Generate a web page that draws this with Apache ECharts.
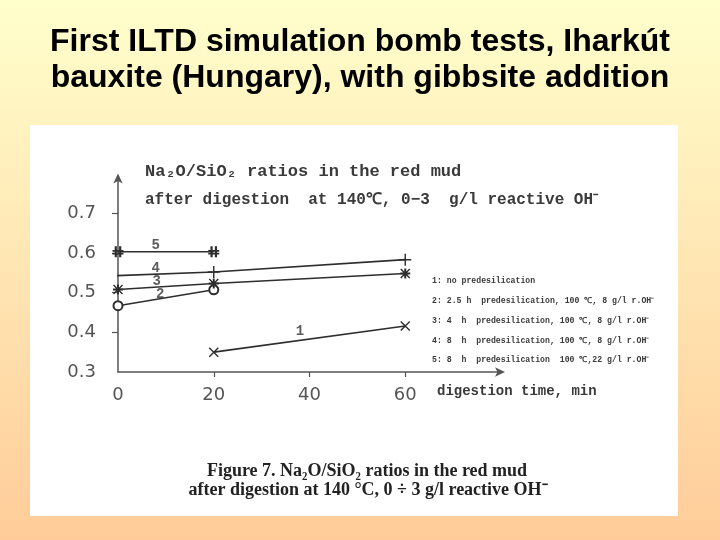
<!DOCTYPE html>
<html>
<head>
<meta charset="utf-8">
<style>html,body{margin:0;padding:0;}#c{width:720px;height:540px;}</style>
<script src="https://cdn.jsdelivr.net/npm/echarts@6/dist/echarts.min.js"></script>
</head>
<body>
<div id="c"></div>
<script>
// ---- data ----
var series1 = [[20, 0.350], [60, 0.416]];
var series2 = [[0, 0.467], [20, 0.507]];
var series3 = [[0, 0.508], [20, 0.523], [60, 0.548]];
var series4 = [[-1.7, 0.542], [20, 0.552], [60, 0.583]];
var series5 = [[0, 0.603], [20, 0.603]];
var lineLabelNames = ['1', '2', '3', '4', '5'];
var lineLabelPos = [[38, 0.403], [8.8, 0.496], [8.1, 0.529], [7.9, 0.562], [7.9, 0.62]];
var xTickLabels = [0, 20, 40, 60];
var xTicks = [20, 40, 60];
var yTickLabels = [0.3, 0.4, 0.5, 0.6, 0.7];
var yTicks = [0.4, 0.5, 0.6, 0.7];
var legendLines = [
  '1: no predesilication',
  '2: 2.5 h  predesilication, 100 \u2103, 8 g/l r.OH\u207B',
  '3: 4  h  predesilication, 100 \u2103, 8 g/l r.OH\u207B',
  '4: 8  h  predesilication, 100 \u2103, 8 g/l r.OH\u207B',
  '5: 8  h  predesilication  100 \u2103,22 g/l r.OH\u207B'
];
var slideTitle = 'First ILTD simulation bomb tests, Iharkút\nbauxite (Hungary), with gibbsite addition';
var innerTitle1 = 'Na\u2082O/SiO\u2082 ratios in the red mud';
var innerTitle2 = 'after digestion  at 140\u2103, 0\u22123  g/l reactive OH\u207B';
var xAxisName = 'digestion time, min';
var caption1 = 'Figure 7. Na\u2082O/SiO\u2082 ratios in the red mud';
var caption2 = 'after digestion at 140 °C, 0 ÷ 3 g/l reactive OH\u207B';

// ---- marker shapes ----
var symX = 'path://M0,1L1,0L10,9L9,10Z M9,0L10,1L1,10L0,9Z';
var symPlus = 'path://M4.4,0H5.6V10H4.4Z M0,4.4H10V5.6H0Z';
var symStar = 'path://M4,0H6V10H4Z M0,4H10V6H0Z M1,0L10,9L9,10L0,1Z M9,0L10,1L1,10L0,9Z';
var symHash = 'path://M2,0H4V10H2Z M6,0H8V10H6Z M0,3.5H10V5H0Z M0,6H10V7.5H0Z';

var ink = '#2e2e2e';
function lineSeries(name, data, symbol, size) {
  return {
    name: name, type: 'line', data: data, symbol: symbol, symbolSize: size,
    showSymbol: true, clip: false,
    lineStyle: { color: ink, width: 1.6 },
    itemStyle: { color: ink, borderColor: ink, borderWidth: symbol === 'emptyCircle' ? 1.5 : 0 },
    z: 3
  };
}
var s4data = series4.map(function (p, i) {
  return i === 0 ? { value: p, symbol: 'none' } : { value: p };
});

var chart = echarts.init(document.getElementById('c'), null, { renderer: 'canvas' });
var monoBold = { fontFamily: 'Liberation Mono', fontWeight: 'bold', fill: '#3a3a3a' };

var graphics = [
  { type: 'rect', z: -1, shape: { x: 30, y: 125, width: 648, height: 391 }, style: { fill: '#ffffff' } },
  { type: 'text', x: 145, y: 172, style: Object.assign({ text: innerTitle1, fontSize: 17, textVerticalAlign: 'middle' }, monoBold) },
  { type: 'text', x: 145, y: 200, style: Object.assign({ text: innerTitle2, fontSize: 16, textVerticalAlign: 'middle' }, monoBold) },
  { type: 'text', x: 437, y: 391, style: Object.assign({ text: xAxisName, fontSize: 14, textVerticalAlign: 'middle' }, monoBold) },
  { type: 'text', x: 367, y: 471, style: { text: caption1, fontFamily: 'Liberation Serif', fontWeight: 'bold', fontSize: 18, fill: '#222', textAlign: 'center', textVerticalAlign: 'middle' } },
  { type: 'text', x: 368, y: 490, style: { text: caption2, fontFamily: 'Liberation Serif', fontWeight: 'bold', fontSize: 18, fill: '#222', textAlign: 'center', textVerticalAlign: 'middle' } }
];
var legendY = [281, 301, 321, 341, 360];
legendLines.forEach(function (t, i) {
  graphics.push({ type: 'text', x: 432, y: legendY[i], style: Object.assign({ text: t, fontSize: 8.2, textVerticalAlign: 'middle' }, monoBold) });
});

chart.setOption({
  animation: false,
  backgroundColor: new echarts.graphic.LinearGradient(0, 0, 0, 1, [
    { offset: 0, color: '#FFFFCC' }, { offset: 1, color: '#FFCC99' }
  ]),
  title: {
    text: slideTitle, left: 'center', top: 19,
    textStyle: { fontFamily: 'Liberation Sans', fontWeight: 'bold', fontSize: 32, lineHeight: 36, color: '#000' }
  },
  grid: { left: 118, right: 219, top: 177.5, bottom: 168 },
  xAxis: {
    type: 'value', min: 0, max: 80, interval: 20,
    axisLine: { lineStyle: { color: '#555', width: 1.5 }, symbol: ['none', 'arrow'], symbolSize: [7, 10], symbolOffset: [0, 4] },
    axisTick: { show: true, length: 5, inside: false, customValues: xTicks, lineStyle: { color: '#555', width: 1.2 } },
    axisLabel: { customValues: xTickLabels, margin: 14, fontFamily: 'DejaVu Sans', fontSize: 18, color: '#555' },
    splitLine: { show: false }
  },
  yAxis: {
    type: 'value', min: 0.3, max: 0.79, interval: 0.1,
    axisLine: { show: true, lineStyle: { color: '#555', width: 1.5 }, symbol: ['none', 'arrow'], symbolSize: [7, 10], symbolOffset: [0, 4] },
    axisTick: { show: true, length: 6, customValues: yTicks, lineStyle: { color: '#555', width: 1.2 } },
    axisLabel: { customValues: yTickLabels, margin: 22, fontFamily: 'DejaVu Sans', fontSize: 18, color: '#555',
      formatter: function (v) { return v.toFixed(1); } },
    splitLine: { show: false }
  },
  series: [
    lineSeries('1', series1, symX, 10),
    lineSeries('2', series2, 'emptyCircle', 9),
    lineSeries('3', series3, symStar, 10),
    lineSeries('4', s4data, symPlus, 12),
    lineSeries('5', series5, symHash, 11),
    {
      type: 'scatter', symbolSize: 1, itemStyle: { color: 'rgba(0,0,0,0)' }, z: 4,
      data: lineLabelPos.map(function (p, i) { return { value: p, name: lineLabelNames[i] }; }),
      label: { show: true, position: 'inside', formatter: '{b}', fontFamily: 'Liberation Mono', fontWeight: 'bold', fontSize: 14, color: '#333' }
    }
  ],
  graphic: graphics
});
</script>
</body>
</html>
